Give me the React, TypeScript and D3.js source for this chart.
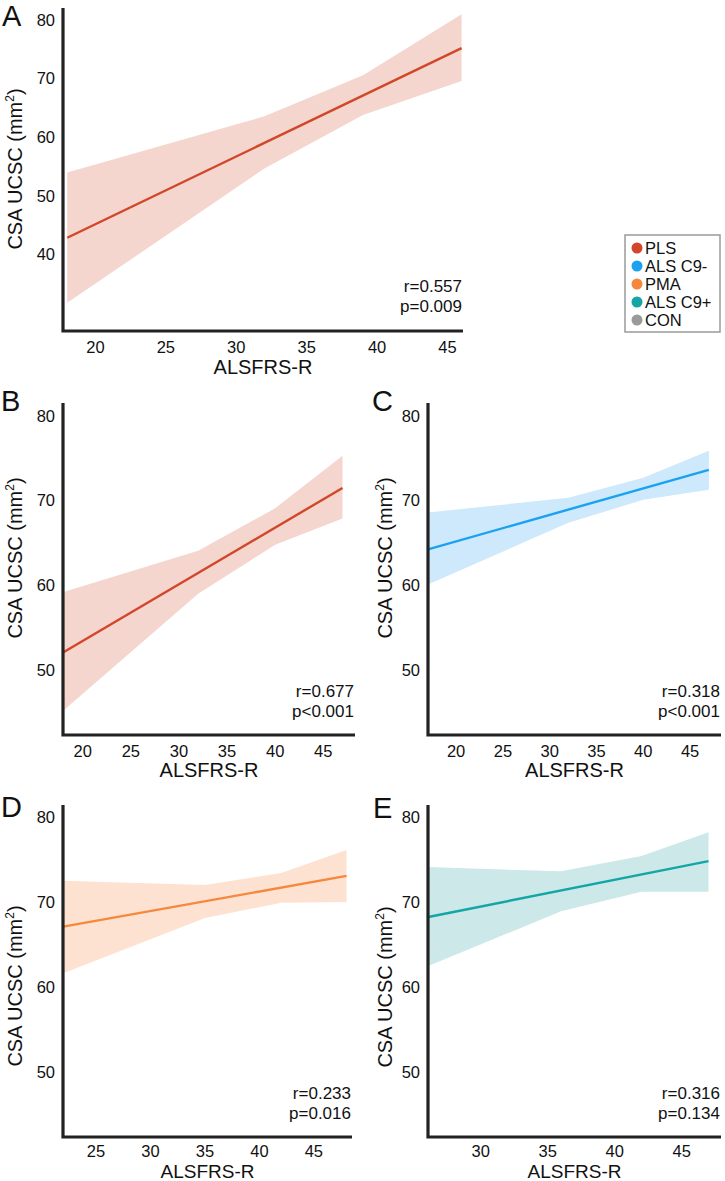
import React from 'react';
import * as d3 from 'd3';

// ---------- data ----------
const panelLabels = ['A', 'B', 'C', 'D', 'E'];
const panelGroups = ['PLS', 'PLS', 'ALS C9-', 'PMA', 'ALS C9+'];
const bandX = [
  [18, 32, 39, 46],
  [18, 32, 40, 47],
  [17, 32, 40, 47],
  [22, 35, 42, 48],
  [26, 36, 42, 47],
];
const bandUpper = [
  [54.0, 63.6, 70.6, 81.0],
  [59.2, 64.1, 69.1, 75.3],
  [68.6, 70.35, 72.7, 75.9],
  [72.5, 72.0, 73.4, 76.1],
  [74.1, 73.6, 75.4, 78.2],
];
const bandLower = [
  [31.8, 54.7, 63.8, 69.6],
  [45.2, 59.0, 64.8, 67.9],
  [60.1, 67.4, 70.1, 71.3],
  [61.6, 68.1, 69.9, 70.0],
  [62.4, 68.9, 71.2, 71.2],
];
const fitStart = [42.9, 52.1, 64.25, 67.1, 68.2];
const fitEnd = [75.2, 71.5, 73.65, 73.06, 74.8];
const rTexts = ['r=0.557', 'r=0.677', 'r=0.318', 'r=0.233', 'r=0.316'];
const pTexts = ['p=0.009', 'p<0.001', 'p<0.001', 'p=0.016', 'p=0.134'];
const xTicks = [
  [20, 25, 30, 35, 40, 45],
  [20, 25, 30, 35, 40, 45],
  [20, 25, 30, 35, 40, 45],
  [25, 30, 35, 40, 45],
  [30, 35, 40, 45],
];
const yTicks = [
  [40, 50, 60, 70, 80],
  [50, 60, 70, 80],
  [50, 60, 70, 80],
  [50, 60, 70, 80],
  [50, 60, 70, 80],
];
const xDomains = [
  [17.7, 46.1],
  [17.95, 48.3],
  [17.0, 48.3],
  [21.97, 48.5],
  [26.07, 47.93],
];
const yDomains = [
  [27.0, 82.05],
  [42.32, 81.54],
  [42.32, 81.54],
  [42.35, 81.4],
  [42.35, 81.4],
];
const legendGroups = ['PLS', 'ALS C9-', 'PMA', 'ALS C9+', 'CON'];

// ---------- styles / layout ----------
const lineColor: Record<string, string> = {
  PLS: '#d2462a',
  'ALS C9-': '#1aa2f0',
  PMA: '#f5883d',
  'ALS C9+': '#14a5a5',
  CON: '#9a9a9a',
};
const bandColor: Record<string, string> = {
  PLS: '#f5d6ce',
  'ALS C9-': '#cde9fb',
  PMA: '#fde2d1',
  'ALS C9+': '#cde8e8',
  CON: '#e0e0e0',
};
const layout = [
  { left: 63, right: 463, top: 8, bottom: 331, letterX: 2, letterY: 26, yLabelX: 15, yLabelY: 169, tickDy: 21.5, xLabelDy: 42.5 },
  { left: 63, right: 355, top: 403, bottom: 735, letterX: 1, letterY: 411, yLabelX: 15, yLabelY: 558, tickDy: 21.5, xLabelDy: 42 },
  { left: 428, right: 721, top: 403, bottom: 735, letterX: 372, letterY: 411, yLabelX: 385, yLabelY: 558, tickDy: 21.5, xLabelDy: 42 },
  { left: 63, right: 352, top: 805, bottom: 1137, letterX: 1, letterY: 817, yLabelX: 15, yLabelY: 986, tickDy: 19.5, xLabelDy: 40.5 },
  { left: 428, right: 721, top: 805, bottom: 1137, letterX: 373, letterY: 818, yLabelX: 385, yLabelY: 987, tickDy: 19.5, xLabelDy: 40.5 },
];
const FONT = '"Liberation Sans", Arial, Helvetica, sans-serif';

function Panel({ i }: { i: number }) {
  const L = layout[i];
  const g = panelGroups[i];
  const x = d3.scaleLinear().domain(xDomains[i]).range([L.left, L.right]);
  const y = d3.scaleLinear().domain(yDomains[i]).range([L.bottom, L.top]);
  const pts = bandX[i].map((xv, k) => ({ x: xv, hi: bandUpper[i][k], lo: bandLower[i][k] }));
  const area = d3
    .area<{ x: number; hi: number; lo: number }>()
    .x((d) => x(d.x))
    .y0((d) => y(d.lo))
    .y1((d) => y(d.hi));
  const xs = bandX[i];
  const line = d3.line<[number, number]>().x((d) => x(d[0])).y((d) => y(d[1]));
  const fit: [number, number][] = [
    [xs[0], fitStart[i]],
    [xs[xs.length - 1], fitEnd[i]],
  ];
  const smallBottom = i >= 3;
  return (
    <g>
      <path d={area(pts) || ''} fill={bandColor[g]} stroke="none" />
      <path d={line(fit) || ''} fill="none" stroke={lineColor[g]} strokeWidth={2.4} />
      <path
        d={`M${L.left},${L.top}V${L.bottom}H${L.right}`}
        fill="none"
        stroke="#222"
        strokeWidth={3.2}
      />
      {yTicks[i].map((t) => (
        <text key={'y' + t} x={L.left - 8} y={y(t) + 5.7} textAnchor="end" fontSize={16.5} fill="#111">
          {t}
        </text>
      ))}
      {xTicks[i].map((t) => (
        <text key={'x' + t} x={x(t)} y={L.bottom + L.tickDy} textAnchor="middle" fontSize={16.5} fill="#111">
          {t}
        </text>
      ))}
      <text
        x={(L.left + L.right) / 2}
        y={L.bottom + L.xLabelDy}
        textAnchor="middle"
        fontSize={smallBottom ? 19 : 20}
        fill="#111"
      >
        ALSFRS-R
      </text>
      <text
        transform={`translate(${L.yLabelX},${L.yLabelY}) rotate(-90)`}
        textAnchor="middle"
        dy="0.35em"
        fontSize={20}
        fill="#111"
      >
        CSA UCSC (mm
        <tspan fontSize={12} dy={-8}>
          2
        </tspan>
        <tspan dy={8}>)</tspan>
      </text>
      <text x={L.right - 1} y={i === 0 ? 292 : L.bottom - 38} textAnchor="end" fontSize={17} fill="#111">
        {rTexts[i]}
      </text>
      <text x={L.right - 1} y={i === 0 ? 312 : L.bottom - 18} textAnchor="end" fontSize={17} fill="#111">
        {pTexts[i]}
      </text>
      <text x={L.letterX} y={L.letterY} fontSize={29} fill="#111">
        {panelLabels[i]}
      </text>
    </g>
  );
}

function Legend() {
  const left = 625, top = 235, right = 720, bottom = 332;
  const pos = d3.scalePoint<string>().domain(legendGroups).range([248, 320]);
  return (
    <g>
      <rect x={left} y={top} width={right - left} height={bottom - top} fill="#fff" stroke="#9a9a9a" strokeWidth={1.5} />
      {legendGroups.map((gname) => (
        <g key={gname}>
          <circle cx={637} cy={pos(gname)!} r={5.5} fill={lineColor[gname]} />
          <text x={645} y={(pos(gname) || 0) + 6} fontSize={16.5} fill="#111">
            {gname}
          </text>
        </g>
      ))}
    </g>
  );
}

export default function App() {
  return (
    <svg
      width={725}
      height={1181}
      style={{ position: 'absolute', left: 0, top: 0, background: '#fff' }}
      fontFamily={FONT}
    >
      <rect x={0} y={0} width={725} height={1181} fill="#fff" />
      {panelLabels.map((_, i) => (
        <Panel key={i} i={i} />
      ))}
      <Legend />
    </svg>
  );
}
